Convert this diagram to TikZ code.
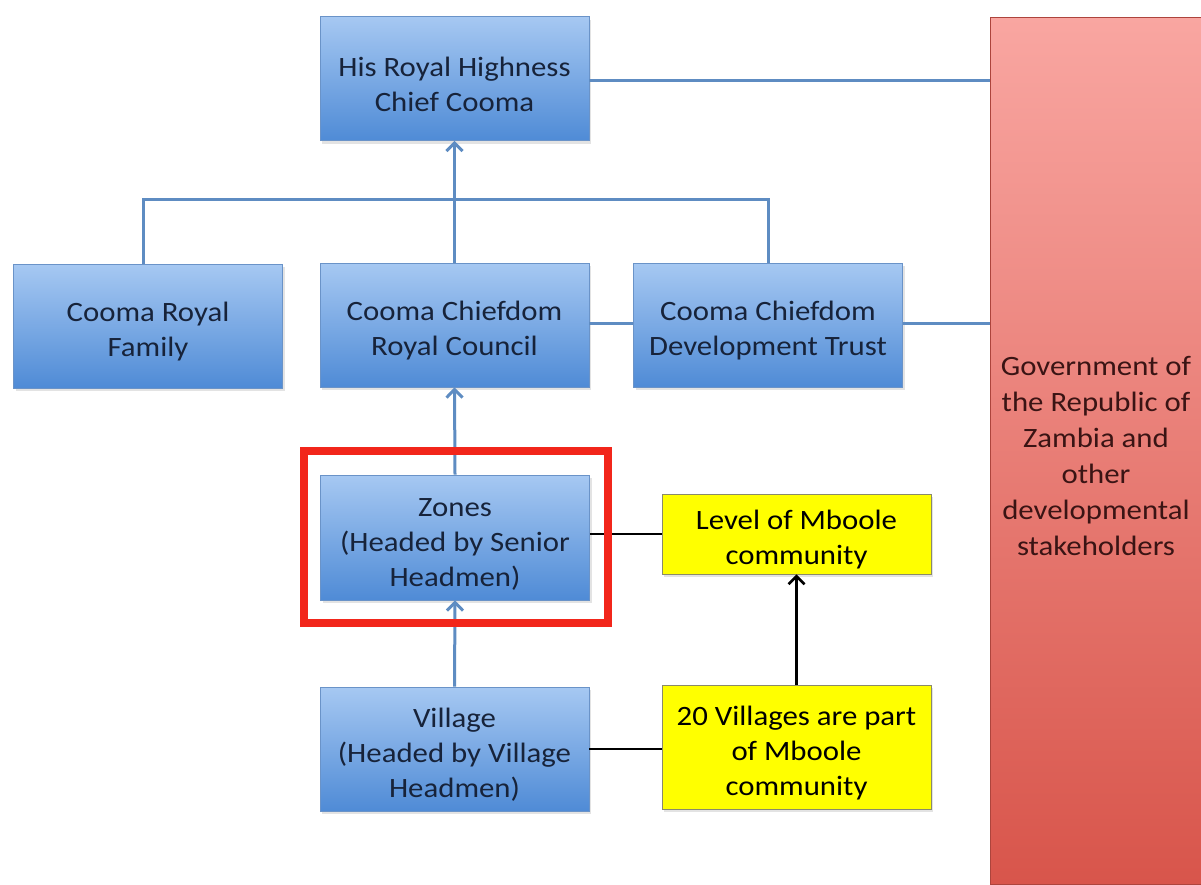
\documentclass[tikz,border=0pt]{standalone}
\usepackage{fontspec}
\setmainfont{Carlito}[FakeStretch=1.1]
\usetikzlibrary{arrows.meta,shadows}
\definecolor{bluetop}{HTML}{A6C8F2}
\definecolor{bluebot}{HTML}{4F8BD6}
\definecolor{boxedge}{HTML}{6A93C8}
\definecolor{navy}{HTML}{17233A}
\definecolor{conncol}{HTML}{5E8CC2}
\definecolor{yel}{HTML}{FFFF00}
\definecolor{yeledge}{HTML}{8A8A6A}
\definecolor{govtop}{HTML}{F9A6A1}
\definecolor{govbot}{HTML}{D8554B}
\definecolor{govtext}{HTML}{3A1414}
\definecolor{frame}{HTML}{F2261B}
\newcommand{\ds}{\rule{0pt}{31pt}}
\begin{document}
\begin{tikzpicture}[x=1pt,y=-1pt,
  bluebox/.style={draw=boxedge, line width=0.8pt, top color=bluetop, bottom color=bluebot,
    minimum width=269pt, minimum height=124pt, align=center, text=navy,
    font=\fontsize{28}{35}\selectfont, inner sep=0pt,
    drop shadow={opacity=0.22, shadow xshift=2pt, shadow yshift=-3pt}},
  yelbox/.style={draw=yeledge, line width=0.8pt, fill=yel,
    minimum width=269pt, align=center, text=black,
    font=\fontsize{28}{35}\selectfont, inner sep=0pt,
    drop shadow={opacity=0.22, shadow xshift=2pt, shadow yshift=-3pt}},
  govbox/.style={draw=govbot!80!black, line width=0.8pt, top color=govtop, bottom color=govbot,
    minimum width=212pt, minimum height=867pt, align=center, text=govtext,
    font=\fontsize{28}{36}\selectfont, inner sep=0pt},
  conn/.style={draw=conncol, line width=3pt},
  blk/.style={draw=black, line width=2.6pt},
  barb/.style={-{Straight Barb[length=8pt,width=16pt]}},
  redframe/.style={draw=frame, line width=8pt, minimum width=304pt, minimum height=172pt, inner sep=0pt}
]
\useasboundingbox (0,0) rectangle (1201,884);
\clip (0,0) rectangle (1201,884);
\fill[white] (0,0) rectangle (1201,884);

\node[govbox] (gov) at (1096,450.5) {\ds Government of\\the Republic of\\Zambia and\\other\\developmental\\stakeholders};

\node[bluebox] (chief) at (454.5,78.5) {\ds His Royal Highness\\Chief Cooma};
\node[bluebox] (family) at (148,326) {\ds Cooma Royal\\Family};
\node[bluebox] (council) at (454.5,325) {\ds Cooma Chiefdom\\Royal Council};
\node[bluebox] (trust) at (768,325) {\ds Cooma Chiefdom\\Development Trust};
\node[bluebox, minimum height=125pt] (zones) at (455,537.5) {\ds Zones\\(Headed by Senior\\Headmen)};
\node[bluebox] (village) at (454.5,749) {\ds Village\\(Headed by Village\\Headmen)};

\node[yelbox, minimum height=80pt] (level) at (796.5,534) {\ds Level of Mboole\\community};
\node[yelbox, minimum height=124pt] (twenty) at (796.5,747) {\ds 20 Villages are part\\of Mboole\\community};

\coordinate (bar) at (455,199);

\draw[conn] ([xshift=-5pt]family.north) |- (bar) -| (trust.north);
\draw[conn,barb] (council.north) -- (chief.south);
\draw[conn] ([yshift=-1.5pt]chief.east) -- ([yshift=-1.5pt]chief.east -| gov.west);
\draw[conn] ([yshift=2pt]council.east) -- ([yshift=2pt]trust.west);
\draw[conn] ([yshift=2pt]trust.east) -- ([yshift=2pt]trust.east -| gov.west);
\draw[conn,barb] (zones.north) -- (council.south);
\draw[conn,barb] (village.north) -- (zones.south);

\draw[blk] (level.west -| zones.east) -- (level.west);
\draw[blk] (village.east) -- (village.east -| twenty.west);
\draw[blk,barb] (twenty.north) -- (level.south);

\node[redframe] (focus) at (456,537) {};
\end{tikzpicture}
\end{document}
